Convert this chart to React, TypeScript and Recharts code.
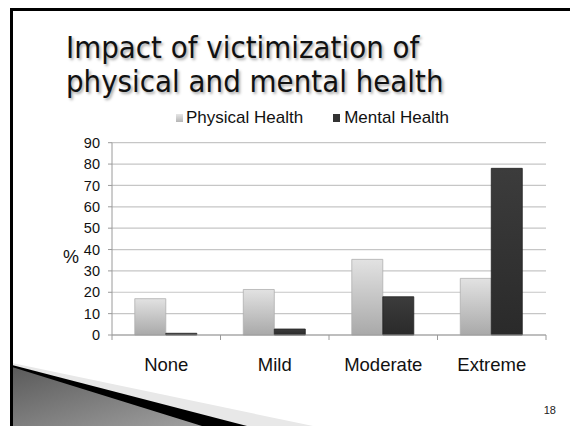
import React from "react";
import { BarChart, Bar, XAxis, YAxis, CartesianGrid } from "recharts";

const categories = ["None", "Mild", "Moderate", "Extreme"];
const physicalHealth = [17, 21.3, 35.4, 26.5];
const mentalHealth = [0.8, 2.8, 17.9, 78];
const yTicks = [0, 10, 20, 30, 40, 50, 60, 70, 80, 90];
const seriesNames = ["Physical Health", "Mental Health"];
const titleLines = ["Impact of victimization of", "physical and mental health"];

const data = categories.map((c, i) => ({
  name: c,
  physical: physicalHealth[i],
  mental: mentalHealth[i],
}));

const CategoryTick = (props: any) => {
  const { x, y, payload, index, visibleTicksCount } = props;
  const half = payload && payload.offset ? payload.offset : 54.25;
  const last = index === (visibleTicksCount || categories.length) - 1;
  return (
    <g>
      <line x1={x - half} y1={y - 8} x2={x - half} y2={y - 3} stroke="#9a9a9a" strokeWidth={1} />
      {last && (
        <line x1={x + half} y1={y - 8} x2={x + half} y2={y - 3} stroke="#9a9a9a" strokeWidth={1} />
      )}
      <text x={x} y={y + 28} textAnchor="middle" fontSize={18.5} fill="#111" fontFamily="Liberation Sans, Arial, sans-serif">
        {payload.value}
      </text>
    </g>
  );
};

const LegendBox = () => (
  <div
    style={{
      position: "absolute",
      left: 176,
      top: 108,
      display: "flex",
      fontFamily: "Liberation Sans, Arial, sans-serif",
      fontSize: 17,
      color: "#111",
      alignItems: "center",
      whiteSpace: "nowrap",
    }}
  >
    <span style={{ display: "inline-block", width: 7, height: 8, background: "linear-gradient(#e6e6e6,#b5b5b5)", marginRight: 3 }} />
    <span style={{ marginRight: 30 }}>{seriesNames[0]}</span>
    <span style={{ display: "inline-block", width: 7, height: 8, background: "#333", marginRight: 4 }} />
    <span>{seriesNames[1]}</span>
  </div>
);

const titleStyle: React.CSSProperties = {
  position: "absolute",
  left: 66,
  fontFamily: "DejaVu Sans, sans-serif",
  fontSize: 31,
  lineHeight: "31px",
  color: "#111",
  textShadow: "2px 2px 3px rgba(0,0,0,0.35)",
  whiteSpace: "nowrap",
  transform: "scaleX(0.895)",
  transformOrigin: "0 0",
};

export default function App() {
  return (
    <div style={{ position: "fixed", left: 0, top: 0, width: 570, height: 426, background: "#fff", overflow: "hidden" }}>
      <svg width={570} height={426} style={{ position: "absolute", left: 0, top: 0 }}>
        <defs>
          <linearGradient id="swoosh" x1="0" y1="0" x2="1" y2="1">
            <stop offset="0%" stopColor="#5a5a5a" />
            <stop offset="100%" stopColor="#a0a0a0" />
          </linearGradient>
        </defs>
        <polygon points="12,363 313,426 12,426" fill="#e8e8e8" />
        <polygon points="12,365 247,426 12,426" fill="#000" />
        <polygon points="12,367 202,426 12,426" fill="url(#swoosh)" />
        <rect x={10} y={8} width={560} height={3} fill="#000" />
        <rect x={10} y={8} width={3} height={418} fill="#000" />
        <text x={556} y={414} textAnchor="end" fontSize={11} fill="#222" fontFamily="Liberation Sans, Arial, sans-serif">18</text>
      </svg>
      <div style={{ ...titleStyle, top: 32 }}>{titleLines[0]}</div>
      <div style={{ ...titleStyle, top: 66 }}>{titleLines[1]}</div>
      <LegendBox />
      <div
        style={{
          position: "absolute",
          left: 63,
          top: 247,
          fontFamily: "Liberation Sans, Arial, sans-serif",
          fontSize: 18,
          color: "#111",
        }}
      >
        %
      </div>
      <div style={{ position: "absolute", left: 0, top: 0 }}>
        <BarChart
          width={570}
          height={426}
          data={data}
          margin={{ top: 142.7, right: 24, bottom: 61, left: 72 }}
          barCategoryGap="21%"
          barGap={0}
        >
          <defs>
            <linearGradient id="physGrad" x1="0" y1="0" x2="0" y2="1">
              <stop offset="0%" stopColor="#e2e2e2" />
              <stop offset="100%" stopColor="#a9a9a9" />
            </linearGradient>
            <linearGradient id="mentGrad" x1="0" y1="0" x2="0" y2="1">
              <stop offset="0%" stopColor="#3c3c3c" />
              <stop offset="100%" stopColor="#2a2a2a" />
            </linearGradient>
          </defs>
          <CartesianGrid vertical={false} stroke="#c6c6c6" strokeWidth={1.2} />
          <XAxis
            dataKey="name"
            stroke="#9a9a9a"
            tickLine={false}
            tick={<CategoryTick />}
            interval={0}
          />
          <YAxis
            width={40}
            domain={[0, 90]}
            ticks={yTicks}
            interval={0}
            stroke="#9a9a9a"
            tickSize={4}
            tickMargin={8}
            tick={{ fontSize: 14.5, fill: "#111", fontFamily: "Liberation Sans, Arial, sans-serif" }}
          />
          <Bar dataKey="physical" name={seriesNames[0]} fill="url(#physGrad)" stroke="#b0b0b0" strokeWidth={0.8} isAnimationActive={false} />
          <Bar dataKey="mental" name={seriesNames[1]} fill="url(#mentGrad)" stroke="#222" strokeWidth={0.8} isAnimationActive={false} />
        </BarChart>
      </div>
    </div>
  );
}
